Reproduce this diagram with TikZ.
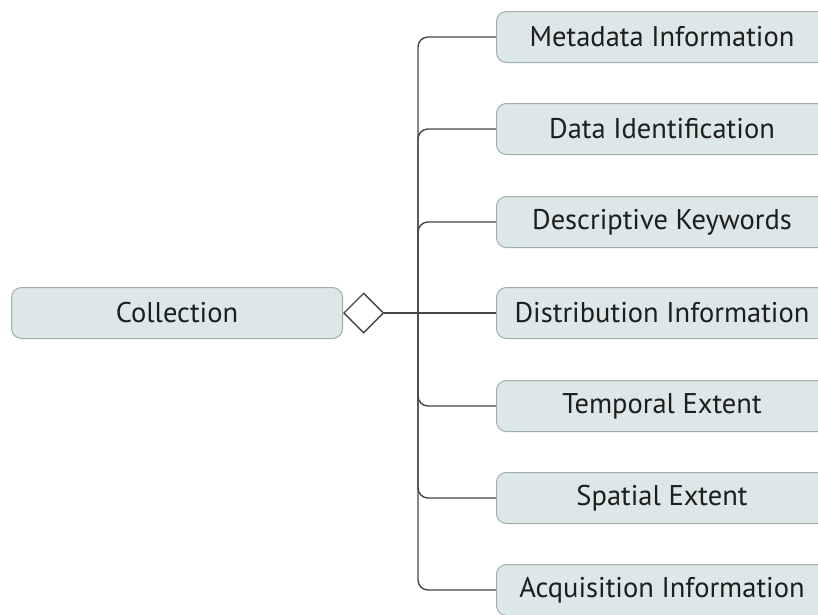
\documentclass[tikz,border=0pt]{standalone}
\usepackage{fontspec}
\setmainfont{PT Sans}
\usetikzlibrary{shapes.geometric}
\definecolor{boxfill}{HTML}{DCE7E7}
\definecolor{boxline}{HTML}{A3ABAB}
\definecolor{conn}{HTML}{454545}
\definecolor{txt}{HTML}{1E1E1E}
\tikzset{
  item/.style={draw=boxline, line width=1pt, fill=boxfill, rounded corners=10pt,
    minimum width=331pt, minimum height=51pt, inner sep=0pt,
    font=\fontsize{28.5}{32}\selectfont, text=txt},
  link/.style={draw=conn, line width=1.4pt, rounded corners=10pt},
  agg/.style={diamond, draw=conn, line width=1.4pt, fill=white, minimum width=40pt, minimum height=40pt, inner sep=0pt}
}
\begin{document}
\begin{tikzpicture}[x=1pt,y=-1pt]
\useasboundingbox (0,0) rectangle (818,614);
\clip (0,0) rectangle (818,614);
\node[item] (col) at (177,313) {Collection};
\node[agg, anchor=west] (dia) at (col.east) {};
\coordinate (j) at (418,313);
\node[item] (b1) at (662,37) {Metadata Information};
\node[item] (b2) at (662,129) {Data Identification};
\node[item] (b3) at (662,222) {Descriptive Keywords};
\node[item] (b4) at (662,313) {Distribution Information};
\node[item] (b5) at (662,406) {Temporal Extent};
\node[item] (b6) at (662,498) {Spatial Extent};
\node[item] (b7) at (662,590) {Acquisition Information};
\draw[link] (dia.east) -- (j);
\draw[link] (j) |- (b1.west);
\draw[link] (j) |- (b2.west);
\draw[link] (j) |- (b3.west);
\draw[link] (j) -- (b4.west);
\draw[link] (j) |- (b5.west);
\draw[link] (j) |- (b6.west);
\draw[link] (j) |- (b7.west);
\end{tikzpicture}
\end{document}
